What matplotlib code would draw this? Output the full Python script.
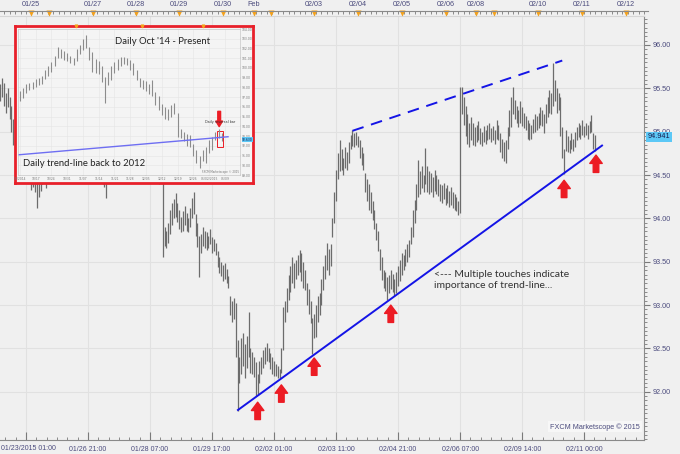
import matplotlib
matplotlib.use('Agg')
import matplotlib.pyplot as plt
import matplotlib.ticker as mticker
from matplotlib.patches import Rectangle
import numpy as np

# ---- hourly bars, index 0 = 01/23/2015 01:00 ----
first_bar = -14
bar_high = [
    95.55, 95.62, 95.56, 95.45, 95.50, 95.40, 95.30, 95.15, 95.05, 94.98,
    94.95, 94.90, 94.85, 94.80, 94.78, 94.70, 94.65, 94.60, 94.55, 94.52,
    94.48, 94.45, 94.50, 94.62, 94.58, 94.55, 94.68, 94.75, 94.82, 94.90,
    94.95, 95.02, 95.08, 95.05, 95.12, 95.18, 95.15, 95.22, 95.28, 95.25,
    95.30, 95.36, 95.32, 95.26, 95.20, 95.15, 95.10, 95.05, 94.98, 94.92,
    94.88, 94.82, 94.78, 94.72, 94.68, 94.66, 94.60, 94.58, 94.52, 94.62,
    94.70, 94.78, 94.85, 94.92, 95.00, 95.06, 95.10, 95.15, 95.12, 95.18,
    95.22, 95.18, 95.14, 95.20, 95.16, 95.10, 95.05, 94.98, 94.92, 94.88,
    94.84, 94.80, 94.76, 94.72, 94.70, 94.66, 94.64, 94.60, 94.58, 94.55,
    93.90, 93.86, 93.95, 94.10, 94.18, 94.22, 94.29, 94.18, 94.10, 94.02,
    94.08, 94.14, 94.06, 94.00, 94.12, 94.24, 94.30, 94.05, 93.95, 93.80,
    93.82, 93.90, 93.86, 93.84, 93.80, 93.88, 93.79, 93.76, 93.72, 93.62,
    93.55, 93.50, 93.46, 93.49, 93.42, 93.34, 93.10, 93.05, 93.08, 93.02,
    92.60, 92.40, 92.62, 92.68, 92.55, 92.64, 92.92, 92.50, 92.46, 92.40,
    92.34, 92.20, 92.35, 92.40, 92.48, 92.52, 92.56, 92.50, 92.45, 92.40,
    92.36, 92.32, 92.30, 92.26, 92.50, 92.98, 93.05, 93.20, 93.35, 93.45,
    93.55, 93.48, 93.52, 93.58, 93.64, 93.60, 93.50, 93.40, 93.25, 93.18,
    93.05, 92.85, 92.90, 93.00, 93.10, 93.14, 93.30, 93.45, 93.58, 93.72,
    93.65, 93.70, 94.00, 94.30, 94.56, 94.75, 94.90, 94.80, 94.70, 94.82,
    94.76, 94.88, 94.96, 95.02, 94.98, 95.00, 94.95, 94.90, 94.82, 94.75,
    94.52, 94.45, 94.40, 94.30, 94.20, 94.10, 93.95, 93.85, 93.65, 93.55,
    93.40, 93.38, 93.32, 93.35, 93.40, 93.36, 93.30, 93.38, 93.45, 93.52,
    93.60, 93.58, 93.65, 93.70, 93.75, 93.90, 94.10, 94.21, 94.40, 94.67,
    94.55, 94.60, 94.50, 94.81, 94.60, 94.55, 94.52, 94.48, 94.56, 94.50,
    94.45, 94.40, 94.38, 94.41, 94.35, 94.38, 94.32, 94.36, 94.30, 94.28,
    94.25, 94.20, 95.52, 95.51, 95.40, 95.30, 95.20, 95.10, 95.17, 95.10,
    95.05, 95.08, 95.12, 95.04, 95.00, 95.06, 95.02, 95.08, 95.10, 95.04,
    95.06, 95.02, 95.14, 95.08, 94.98, 94.92, 94.88, 94.90, 95.05, 95.25,
    95.40, 95.52, 95.37, 95.30, 95.25, 95.35, 95.28, 95.22, 95.18, 95.13,
    95.10, 95.08, 95.15, 95.20, 95.18, 95.22, 95.29, 95.25, 95.20, 95.32,
    95.40, 95.48, 95.45, 95.79, 95.60, 95.50, 95.45, 95.40, 95.05, 94.80,
    95.02, 94.95, 94.90, 94.98, 94.92, 95.00, 95.05, 95.10, 95.08, 95.13,
    95.06, 95.10, 95.08, 95.12, 95.19, 94.98, 94.96]
bar_low = [
    95.35, 95.40, 95.30, 95.22, 95.28, 95.15, 95.00, 94.85, 94.76, 94.72,
    94.70, 94.62, 94.58, 94.55, 94.50, 94.46, 94.42, 94.33, 94.36, 94.30,
    94.12, 94.25, 94.32, 94.40, 94.42, 94.35, 94.45, 94.52, 94.60, 94.66,
    94.72, 94.80, 94.86, 94.88, 94.92, 94.98, 94.95, 95.02, 95.06, 95.08,
    95.10, 95.14, 95.12, 95.05, 95.00, 94.92, 94.86, 94.80, 94.74, 94.68,
    94.64, 94.60, 94.55, 94.50, 94.46, 94.44, 94.40, 94.36, 94.24, 94.42,
    94.48, 94.56, 94.62, 94.70, 94.78, 94.84, 94.88, 94.92, 94.90, 94.96,
    95.00, 94.98, 94.92, 94.96, 94.94, 94.88, 94.82, 94.76, 94.70, 94.64,
    94.60, 94.56, 94.52, 94.48, 94.46, 94.44, 94.42, 94.40, 94.42, 93.56,
    93.68, 93.66, 93.72, 93.82, 93.92, 94.00, 94.02, 93.96, 93.88, 93.84,
    93.86, 93.92, 93.86, 93.84, 93.90, 94.00, 94.05, 93.80, 93.67, 93.32,
    93.60, 93.68, 93.66, 93.64, 93.66, 93.70, 93.60, 93.62, 93.58, 93.44,
    93.37, 93.34, 93.28, 93.30, 93.25, 93.20, 92.88, 92.80, 92.84, 92.40,
    91.78, 92.10, 92.20, 92.30, 92.16, 92.28, 92.40, 92.22, 92.20, 92.17,
    91.95, 91.96, 92.10, 92.20, 92.28, 92.32, 92.36, 92.34, 92.26, 92.20,
    92.18, 92.18, 92.16, 92.16, 92.22, 92.48, 92.80, 92.92, 93.06, 93.15,
    93.25, 93.20, 93.30, 93.35, 93.38, 93.28, 93.20, 93.17, 93.00, 92.90,
    92.79, 92.44, 92.62, 92.63, 92.80, 92.88, 93.00, 93.17, 93.30, 93.40,
    93.35, 93.45, 93.79, 93.95, 94.20, 94.45, 94.55, 94.56, 94.50, 94.58,
    94.56, 94.64, 94.80, 94.84, 94.82, 94.85, 94.82, 94.70, 94.62, 94.56,
    94.30, 94.20, 94.10, 94.06, 93.98, 93.88, 93.75, 93.62, 93.40, 93.29,
    93.20, 93.16, 93.06, 93.14, 93.18, 93.15, 93.10, 93.14, 93.22, 93.28,
    93.35, 93.40, 93.45, 93.50, 93.55, 93.70, 93.78, 93.95, 94.10, 94.25,
    94.28, 94.35, 94.30, 94.40, 94.30, 94.28, 94.30, 94.25, 94.32, 94.28,
    94.26, 94.20, 94.18, 94.22, 94.16, 94.18, 94.13, 94.16, 94.12, 94.10,
    94.08, 94.04, 94.06, 95.20, 95.08, 94.95, 94.86, 94.82, 94.90, 94.85,
    94.84, 94.88, 94.90, 94.86, 94.84, 94.88, 94.86, 94.90, 94.92, 94.88,
    94.90, 94.86, 94.92, 94.90, 94.76, 94.70, 94.66, 94.64, 94.80, 94.95,
    95.05, 95.20, 95.15, 95.10, 95.05, 95.10, 95.06, 95.04, 95.02, 94.92,
    94.90, 94.92, 94.98, 95.00, 95.02, 95.04, 95.08, 95.06, 94.98, 95.10,
    95.17, 95.22, 95.20, 95.30, 95.35, 95.22, 95.25, 94.95, 94.70, 94.51,
    94.78, 94.76, 94.75, 94.80, 94.78, 94.82, 94.90, 94.94, 94.92, 94.96,
    94.94, 94.96, 94.92, 94.98, 95.00, 94.80, 94.78]
last_price = 94.941

# trend lines (bar index, price)
trend_x = [116.2, 315.8]
trend_y = [91.79, 94.84]
upper_x = [179, 294]
upper_y = [95.01, 95.82]

# red arrows: tip positions
touch_x = [127, 140, 158, 200, 295, 312.5]
touch_y = [91.88, 92.08, 92.39, 93.00, 94.44, 94.73]

# axis labels
price_ticks = [92.0, 92.5, 93.0, 93.5, 94.0, 94.5, 95.0, 95.5, 96.0]
bottom_pos = [0, 34, 68, 102, 136, 170, 204, 238, 272, 306]
bottom_labels = ['01/23/2015 01:00', '01/26 21:00', '01/28 07:00', '01/29 17:00',
                 '02/02 01:00', '02/03 11:00', '02/04 21:00', '02/06 07:00',
                 '02/09 14:00', '02/11 00:00']
top_pos = [2.6, 12.6, 36.6, 60.3, 83.9, 108, 125, 134.3, 157.9, 182, 206.1,
           230.3, 246.7, 256.6, 280.7, 304.8, 329]
top_labels = ['01/25', '', '01/27', '01/28', '01/29', '01/30', 'Feb', '', '02/03',
              '02/04', '02/05', '02/06', '02/08', '', '02/10', '02/11', '02/12']

# ---- inset: daily bars Oct '14 - present ----
day_high = [97.6, 97.9, 98.3, 98.5, 98.6, 98.9, 99.0, 99.2, 99.8, 100.2,
            100.6, 101.2, 102.1, 101.9, 101.7, 101.5, 101.2, 101.0, 101.9, 102.4,
            103.0, 103.4, 102.2, 101.6, 100.9, 100.7, 100.2, 99.1, 99.6, 100.2,
            100.6, 100.9, 101.1, 101.1, 101.0, 100.8, 100.5, 99.8, 99.0, 98.8,
            98.7, 98.4, 98.8, 97.5, 97.1, 96.3, 96.0, 95.8, 96.2, 96.4,
            95.4, 93.7, 93.4, 93.2, 93.1, 92.2, 91.6, 91.0, 91.6, 91.9,
            92.6, 92.9, 93.4, 93.7, 93.3]
day_low = [96.6, 96.9, 97.4, 97.7, 97.8, 98.0, 98.2, 98.3, 98.9, 99.2,
           99.6, 100.2, 101.0, 101.0, 100.8, 100.7, 100.5, 100.3, 100.7, 101.4,
           101.8, 102.0, 100.8, 99.6, 99.5, 99.4, 98.6, 96.4, 98.2, 98.8,
           99.5, 99.8, 100.2, 100.4, 100.3, 99.8, 99.3, 98.8, 98.0, 97.8,
           97.6, 97.3, 97.1, 96.2, 95.7, 95.2, 94.8, 94.7, 95.0, 95.3,
           92.9, 92.8, 92.5, 92.0, 91.9, 91.0, 90.2, 89.7, 90.4, 90.2,
           91.3, 91.6, 92.6, 92.8, 92.5]
day_trend_x = [-0.6, 66]
day_trend_y = [91.07, 92.93]
day_labels = ['10/2014', '10/17', '10/24', '10/31', '11/07', '11/14', '11/21',
              '11/28', '12/05', '12/12', '12/19', '12/26', '01/02/2015', '01/09']

W, H = 680, 454
bg = '#f0f0f0'
lab_col = '#4b4b7d'
red = '#ec1c24'


def fx(px):
    return px / W


def fy(py):
    return 1 - py / H


fig = plt.figure(figsize=(6.8, 4.54), dpi=100, facecolor=bg)

# main chart
ax = fig.add_axes([0, fy(440), fx(644), fy(16) - fy(440)])
ax.set_facecolor(bg)
ax.set_xlim(-26 / 1.824, (644 - 26) / 1.824)
ax.set_ylim(91.444, 96.334)

idx = np.arange(first_bar, first_bar + len(bar_high))
ax.vlines(idx, bar_low, bar_high, color='#6c6c6c', lw=0.9, zorder=2)

ax.plot(trend_x, trend_y, color='#1414e6', lw=1.4, zorder=3)
ax.plot(upper_x, upper_y, color='#1414e6', lw=1.4, dashes=(6, 4), zorder=3)

for xi, yi in zip(touch_x, touch_y):
    ax.annotate('', xy=(xi, yi), xytext=(0, -12.5), textcoords='offset points',
                arrowprops=dict(arrowstyle='simple,head_length=0.6,head_width=0.9,tail_width=0.4',
                                fc=red, ec=red, mutation_scale=10, shrinkA=0, shrinkB=0),
                zorder=4)

ax.text(223.7, 93.41, '<--- Multiple touches indicate\nimportance of trend-line...',
        fontsize=7.5, family='Lato', color='#333333', va='top', ha='left', linespacing=1.3)

# bottom axis: first label sits flush with the left edge
ax.set_xticks(bottom_pos, [''] + bottom_labels[1:])
ax.text(0.002, -0.012, bottom_labels[0], transform=ax.transAxes, fontsize=5.0,
        family='Liberation Sans', color=lab_col, ha='left', va='top')
ax.xaxis.set_minor_locator(mticker.MultipleLocator(34 / 6))
ax.tick_params(axis='x', which='major', direction='in', length=6, color='#7a7a7a',
               labelsize=5.0, labelcolor=lab_col, pad=4)
ax.tick_params(axis='x', which='minor', direction='in', length=2.5, color='#7a7a7a')
ax.yaxis.tick_right()
ax.yaxis.set_major_locator(mticker.FixedLocator(price_ticks))
ax.yaxis.set_minor_locator(mticker.MultipleLocator(0.05))
ax.yaxis.set_major_formatter(mticker.FormatStrFormatter('%.2f'))
ax.tick_params(axis='y', which='major', direction='out', length=4, color='#7a7a7a',
               labelsize=5.2, labelcolor=lab_col, pad=2)
ax.tick_params(axis='y', which='minor', direction='out', length=2, color='#7a7a7a')
for lab in ax.get_xticklabels() + ax.get_yticklabels():
    lab.set_family('Liberation Sans')
ax.grid(True, which='major', color='#e1e1e1', lw=0.8)
ax.set_axisbelow(True)
ax.spines['left'].set_visible(False)
ax.spines['top'].set_color('#d6d6d6')
ax.spines['right'].set_color('#8a8a8a')
ax.spines['bottom'].set_color('#8a8a8a')

ax.text(1.006, last_price, '94.941', transform=ax.get_yaxis_transform(), fontsize=5.2,
        family='Liberation Sans', color='#1a1a4a', va='center', ha='left', zorder=5,
        bbox=dict(boxstyle='square,pad=0.2', fc='#5cc8f6', ec='none'))
ax.text(640 / 644, 0.022, 'FXCM Marketscope \u00a9 2015', transform=ax.transAxes,
        fontsize=5.2, family='Liberation Sans', color=lab_col, ha='right', va='bottom',
        bbox=dict(boxstyle='square,pad=0.25', fc='#f7f7f7', ec='none'))

# top date ruler
axr = fig.add_axes([0, fy(16), fx(648), fy(11) - fy(16)])
axr.set_facecolor('none')
axr.set_xlim(-26 / 1.824, (648 - 26) / 1.824)
axr.set_ylim(0, 1)
for s in ['left', 'right', 'bottom']:
    axr.spines[s].set_visible(False)
axr.spines['top'].set_color('#8a8a8a')
axr.xaxis.tick_top()
axr.set_xticks(top_pos, top_labels)
axr.xaxis.set_minor_locator(mticker.MultipleLocator(3))
axr.tick_params(axis='x', which='major', direction='in', length=3, color='#7a7a7a',
                labelsize=5.2, labelcolor=lab_col, pad=2)
axr.tick_params(axis='x', which='minor', direction='in', length=2, color='#7a7a7a')
for lab in axr.get_xticklabels():
    lab.set_family('Liberation Sans')
axr.set_yticks([])
axr.plot(top_pos, [0.55] * len(top_pos), 'v', color='#f5a21b', ms=4.2, mec='none',
         clip_on=False)

# inset frame
frame = fig.add_axes([fx(15), fy(183), fx(253 - 15), fy(26) - fy(183)])
frame.set_zorder(5)
frame.set_facecolor('#f4f4f4')
frame.set_xticks([])
frame.set_yticks([])
for s in frame.spines.values():
    s.set_color('#e8202a')
    s.set_linewidth(2)

ins = fig.add_axes([fx(18), fy(175), fx(240 - 18), fy(29) - fy(175)])
ins.set_zorder(6)
ins.set_facecolor('none')
ins.set_xlim(-0.6, 69.8)
ins.set_ylim(89, 104)
jdx = np.arange(len(day_high))
ins.vlines(jdx, day_low, day_high, color='#8c8c8c', lw=0.8)
ins.plot(day_trend_x, day_trend_y, color='#6e6ef2', lw=1.0)
ins.add_patch(Rectangle((62.5, 91.9), 1.9, 1.66, fill=False, ec=red, lw=0.7))
ins.annotate('', xy=(63.2, 93.97), xytext=(0, 11), textcoords='offset points',
             arrowprops=dict(arrowstyle='simple,head_length=0.5,head_width=0.6,tail_width=0.25',
                             fc=red, ec=red, mutation_scale=8, shrinkA=0, shrinkB=0))
ins.text(63.5, 94.4, 'Daily reversal bar', fontsize=2.4, ha='center', va='center', color='#333')
ins.yaxis.tick_right()
ins.yaxis.set_major_locator(mticker.MultipleLocator(1))
ins.yaxis.set_major_formatter(mticker.FormatStrFormatter('%.2f'))
ins.set_xticks(np.arange(0, 70, 5), day_labels)
ins.tick_params(axis='both', length=1, width=0.3, color='#999999', labelsize=2.2,
                labelcolor='#777777', pad=0.5)
ins.grid(True, color='#e4e4e4', lw=0.4)
ins.set_axisbelow(True)
for s in ins.spines.values():
    s.set_color('#c8c8c8')
    s.set_linewidth(0.5)
ins.text(1.01, 92.63, '92.630', transform=ins.get_yaxis_transform(), fontsize=2.2,
         color='#1a1a4a', va='center', bbox=dict(boxstyle='square,pad=0.1', fc='#5cc8f6', ec='none'))
ins.text(0.995, 0.01, 'FXCM Marketscope \u00a9 2015', transform=ins.transAxes,
         fontsize=2.0, color='#777777', ha='right', va='bottom')
ins.plot([17.8, 38.7, 58.1], [104.35] * 3, 'v', color='#f5a21b', ms=2, clip_on=False)

fig.text(fx(163), fy(42), "Daily Oct '14 - Present", fontsize=6.8, family='Lato',
         color='#222222', ha='center', va='center', zorder=10)
fig.text(fx(23), fy(164), 'Daily trend-line back to 2012', fontsize=6.8, family='Lato',
         color='#222222', ha='left', va='center', zorder=10)

fig.savefig('out.png', dpi=100, facecolor=fig.get_facecolor())
